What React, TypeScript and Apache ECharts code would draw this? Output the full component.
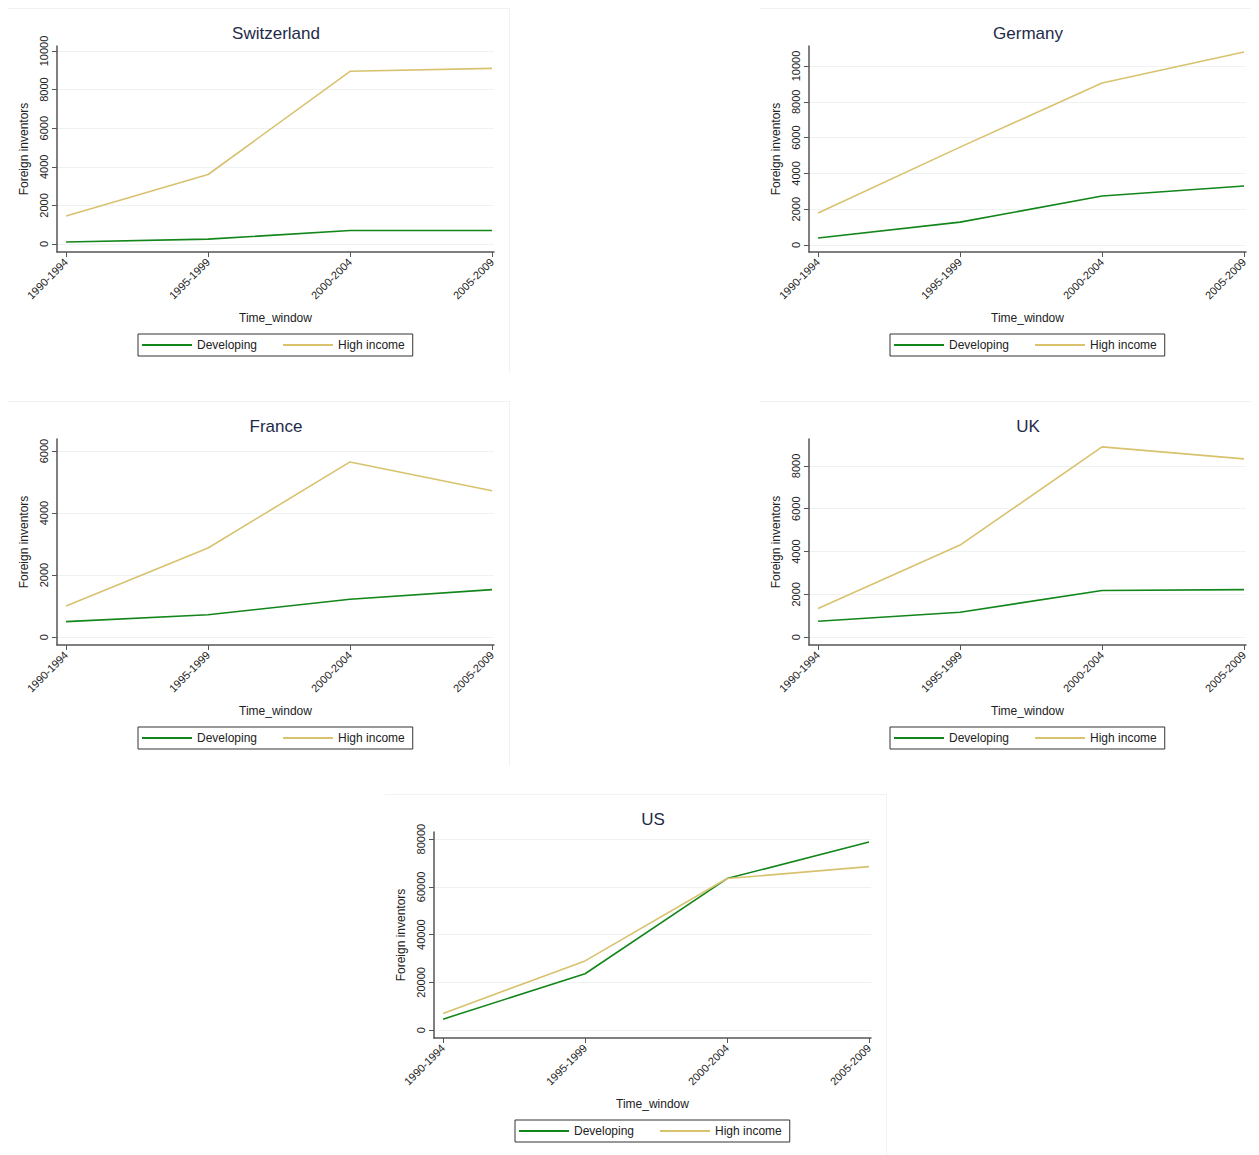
import { useEffect, useRef } from 'react';
import * as echarts from 'echarts';

const categories = ['1990-1994', '1995-1999', '2000-2004', '2005-2009'];

const swissDeveloping = [100, 250, 700, 700];
const swissHigh = [1450, 3600, 8950, 9100];
const germanyDeveloping = [390, 1280, 2740, 3300];
const germanyHigh = [1790, 5470, 9050, 10780];
const franceDeveloping = [500, 720, 1220, 1530];
const franceHigh = [1000, 2875, 5650, 4720];
const ukDeveloping = [740, 1160, 2180, 2220];
const ukHigh = [1340, 4300, 8890, 8330];
const usDeveloping = [4600, 23600, 63500, 78800];
const usHigh = [7000, 29000, 63500, 68500];

const ticks10k = [0, 2000, 4000, 6000, 8000, 10000];
const ticks6k = [0, 2000, 4000, 6000];
const ticks8k = [0, 2000, 4000, 6000, 8000];
const ticks80k = [0, 20000, 40000, 60000, 80000];

const GREEN = '#12861a';
const GOLD = '#d8c26e';
const FONT = '"Liberation Sans", Arial, sans-serif';

interface PanelProps {
  title: string;
  developing: number[];
  high: number[];
  yMin: number;
  yMax: number;
  yTicks: number[];
  left: number;
  top: number;
}

function Panel({ title, developing, high, yMin, yMax, yTicks, left, top }: PanelProps) {
  const ref = useRef<HTMLDivElement>(null);

  useEffect(() => {
    if (!ref.current) return;
    const chart = echarts.init(ref.current, undefined, { renderer: 'svg' });
    const toPairs = (arr: number[]) => arr.map((v, i) => [i, v]);

    chart.setOption({
      animation: false,
      textStyle: { fontFamily: FONT },
      title: {
        text: title,
        left: 263,
        top: 11,
        textAlign: 'center',
        textStyle: { fontSize: 17, fontWeight: 'normal', color: '#1e2b48', fontFamily: FONT },
      },
      grid: { left: 49, right: 15, top: 37, height: 206, outerBoundsMode: 'none', containLabel: false },
      xAxis: {
        type: 'value',
        min: -0.064,
        max: 3.014,
        name: 'Time_window',
        nameLocation: 'middle',
        nameGap: 60,
        nameTextStyle: { fontSize: 12, color: '#222' },
        axisLine: { show: true, onZero: false, lineStyle: { color: '#555', width: 1.5 } },
        axisTick: { show: true, length: 5, lineStyle: { color: '#555' }, customValues: [0, 1, 2, 3] },
        axisLabel: {
          rotate: 45,
          fontSize: 11,
          color: '#222',
          customValues: [0, 1, 2, 3],
          formatter: (v: number) => categories[Math.round(v)],
        },
        splitLine: { show: false },
      },
      yAxis: {
        type: 'value',
        min: yMin,
        max: yMax,
        name: 'Foreign inventors',
        nameLocation: 'middle',
        nameGap: 27,
        nameTextStyle: { fontSize: 12, color: '#222' },
        axisLine: { show: true, onZero: false, lineStyle: { color: '#555', width: 1.5 } },
        axisTick: { show: true, length: 5, lineStyle: { color: '#555' }, customValues: yTicks },
        axisLabel: {
          rotate: 90,
          fontSize: 11,
          color: '#222',
          customValues: yTicks,
          margin: 8,
          formatter: (v: number) => String(v),
        },
        splitLine: { show: true, lineStyle: { color: '#eef2f2' } },
      },
      legend: {
        left: 130,
        top: 325,
        itemWidth: 50,
        itemHeight: 2,
        itemGap: 26,
        padding: [5, 8, 5, 4],
        borderColor: '#333',
        borderWidth: 1,
        borderRadius: 0,
        icon: 'rect',
        textStyle: { fontSize: 12, color: '#222' },
        data: ['Developing', 'High income'],
      },
      series: [
        {
          name: 'Developing',
          type: 'line',
          data: toPairs(developing),
          symbol: 'none',
          lineStyle: { color: GREEN, width: 1.6 },
          itemStyle: { color: GREEN },
        },
        {
          name: 'High income',
          type: 'line',
          data: toPairs(high),
          symbol: 'none',
          lineStyle: { color: GOLD, width: 1.6 },
          itemStyle: { color: GOLD },
        },
      ],
    });

    return () => chart.dispose();
  }, [title, developing, high, yMin, yMax, yTicks]);

  return (
    <div
      ref={ref}
      style={{
        position: 'absolute',
        left,
        top,
        width: 502,
        height: 365,
        borderTop: '1px solid #f2f2f2',
        borderRight: '1px solid #f2f2f2',
        boxSizing: 'border-box',
      }}
    />
  );
}

export default function App() {
  return (
    <div style={{ position: 'relative', width: 1259, height: 1155, background: '#fff' }}>
      <Panel title="Switzerland" developing={swissDeveloping} high={swissHigh} yMin={-415} yMax={10260} yTicks={ticks10k} left={0} top={0} />
      <Panel title="Germany" developing={germanyDeveloping} high={germanyHigh} yMin={-390} yMax={11120} yTicks={ticks10k} left={752} top={0} />
      <Panel title="France" developing={franceDeveloping} high={franceHigh} yMin={-255} yMax={6390} yTicks={ticks6k} left={0} top={393} />
      <Panel title="UK" developing={ukDeveloping} high={ukHigh} yMin={-370} yMax={9260} yTicks={ticks8k} left={752} top={393} />
      <Panel title="US" developing={usDeveloping} high={usHigh} yMin={-3300} yMax={83000} yTicks={ticks80k} left={377} top={786} />
    </div>
  );
}
